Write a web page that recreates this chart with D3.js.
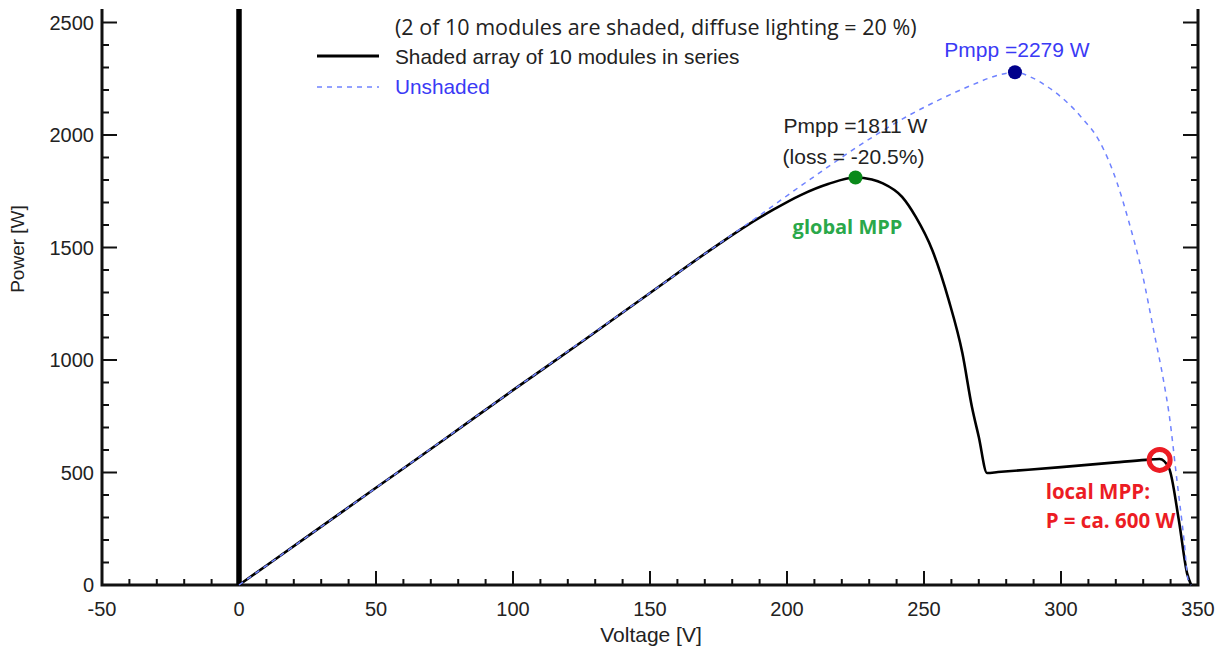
<!DOCTYPE html>
<html>
<head>
<meta charset="utf-8">
<script src="https://cdn.jsdelivr.net/npm/d3@7"></script>
<style>
  body { margin: 0; background: #fff; }
  svg { display: block; }
</style>
</head>
<body>
<div class="vis"></div>
<script>
// shaded array: voltage [V] / power [W]
var shadedV = [0, 25, 50, 75, 100, 125, 150, 175, 185, 195, 205, 215, 225, 231, 235, 242, 247, 253, 259, 264, 267.5, 270, 273, 277, 300, 320, 331, 336, 339.4, 343, 346, 347.5]
var shadedP = [0, 216, 432, 648, 866, 1080, 1298, 1514, 1595, 1668, 1733, 1782, 1811, 1802, 1785, 1725, 1636, 1489, 1267, 1031, 791, 658, 498, 502, 524, 545, 556, 560, 520, 289, 53, 0]

// unshaded array
var unshadedV = [0, 50, 100, 150, 175, 192, 204, 214, 225, 233.6, 243.4, 255.5, 267.5, 277.4, 283.2, 289.4, 295.6, 301.8, 307.7, 313.9, 320.4, 324.8, 329.6, 334, 337.6, 339.4, 342.3, 344.9, 346.4, 347.5]
var unshadedP = [0, 432, 866, 1298, 1515, 1660, 1765, 1850, 1942, 2009, 2080, 2156, 2222, 2267, 2279, 2255, 2210, 2150, 2075, 1975, 1790, 1613, 1387, 1120, 897, 764, 467, 200, 22, 0]

var xTicks = [-50, 0, 50, 100, 150, 200, 250, 300, 350]
var yTicks = [0, 500, 1000, 1500, 2000, 2500]

var mppUnshaded = [283.2, 2279]
var mppShaded = [225, 1811]
var mppLocal = [336, 556]

var legendTitle = "(2 of 10 modules are shaded, diffuse lighting = 20 %)"
var legendShaded = "Shaded array of 10 modules in series"
var legendUnshaded = "Unshaded"

var width = 1224
var height = 651
var axisFont = "'Liberation Sans', Arial, sans-serif"
var noteFont = "'Open Sans', 'Noto Sans', sans-serif"

var svg = d3.select(".vis").append("svg")
    .attr("width", width)
    .attr("height", height)

svg.append("rect").attr("width", width).attr("height", height).attr("fill", "#fff")

var x = d3.scaleLinear().domain([-50, 350]).range([102, 1198])
var y = d3.scaleLinear().domain([0, 2500]).range([585, 22.5])
var topY = 9

var frame = svg.append("g").attr("stroke", "#111")

// minor + major ticks
var xMinor = d3.range(-50, 351, 10)
var yMinor = d3.range(0, 2501, 100)

frame.selectAll(".xt").data(xMinor).enter().append("line")
    .attr("x1", function(d){ return x(d) }).attr("x2", function(d){ return x(d) })
    .attr("y1", y(0)).attr("y2", function(d){ return y(0) - (d % 50 == 0 ? 14 : 6) })
    .attr("stroke-width", 2)

frame.selectAll(".ytl").data(yMinor).enter().append("line")
    .attr("x1", x(-50)).attr("x2", function(d){ return x(-50) + (d % 500 == 0 ? 15 : 7) })
    .attr("y1", function(d){ return y(d) }).attr("y2", function(d){ return y(d) })
    .attr("stroke-width", 2)

frame.selectAll(".ytr").data(yMinor).enter().append("line")
    .attr("x1", x(350)).attr("x2", function(d){ return x(350) - (d % 500 == 0 ? 15 : 7) })
    .attr("y1", function(d){ return y(d) }).attr("y2", function(d){ return y(d) })
    .attr("stroke-width", 2)

// frame lines (no top border)
frame.append("path")
    .attr("d", "M" + x(-50) + "," + topY + "V" + y(0) + "H" + x(350) + "V" + topY)
    .attr("fill", "none")
    .attr("stroke-width", 3)

// zero line
svg.append("line")
    .attr("x1", x(0)).attr("x2", x(0))
    .attr("y1", topY).attr("y2", y(0))
    .attr("stroke", "#000")
    .attr("stroke-width", 5.5)

// tick labels
svg.append("g").selectAll("text").data(xTicks).enter().append("text")
    .attr("x", function(d){ return x(d) })
    .attr("y", 616)
    .attr("text-anchor", "middle")
    .attr("font-family", axisFont)
    .attr("font-size", 20)
    .attr("fill", "#222")
    .text(function(d){ return d })

svg.append("g").selectAll("text").data(yTicks).enter().append("text")
    .attr("x", 94)
    .attr("y", function(d){ return y(d) })
    .attr("dy", "0.36em")
    .attr("text-anchor", "end")
    .attr("font-family", axisFont)
    .attr("font-size", 20)
    .attr("fill", "#222")
    .text(function(d){ return d })

svg.append("text")
    .attr("x", 651).attr("y", 642)
    .attr("text-anchor", "middle")
    .attr("font-family", axisFont)
    .attr("font-size", 21)
    .attr("fill", "#222")
    .text("Voltage [V]")

svg.append("text")
    .attr("transform", "translate(24,249) rotate(-90)")
    .attr("text-anchor", "middle")
    .attr("font-family", axisFont)
    .attr("font-size", 19)
    .attr("fill", "#222")
    .text("Power [W]")

// curves
var line = d3.line()
    .x(function(d){ return x(d[0]) })
    .y(function(d){ return y(d[1]) })
    .curve(d3.curveMonotoneX)

var shaded = shadedV.map(function(v, i){ return [v, shadedP[i]] })
var unshaded = unshadedV.map(function(v, i){ return [v, unshadedP[i]] })

svg.append("path")
    .datum(shaded)
    .attr("d", line)
    .attr("fill", "none")
    .attr("stroke", "#000")
    .attr("stroke-width", 2.6)
    .attr("stroke-linejoin", "round")

svg.append("path")
    .datum(unshaded)
    .attr("d", line)
    .attr("fill", "none")
    .attr("stroke", "#6f82ff")
    .attr("stroke-width", 1.5)
    .attr("stroke-dasharray", "5,5")

// legend
var legend = svg.append("g")
legend.append("line")
    .attr("x1", 317).attr("x2", 379).attr("y1", 56).attr("y2", 56)
    .attr("stroke", "#000").attr("stroke-width", 3)
legend.append("line")
    .attr("x1", 317).attr("x2", 379).attr("y1", 87).attr("y2", 87)
    .attr("stroke", "#6f82ff").attr("stroke-width", 1.5).attr("stroke-dasharray", "5,5")
legend.append("text")
    .attr("x", 395).attr("y", 35)
    .attr("font-family", noteFont).attr("font-size", 21.5).attr("fill", "#222")
    .text(legendTitle)
legend.append("text")
    .attr("x", 395).attr("y", 64)
    .attr("font-family", axisFont).attr("font-size", 20.8).attr("fill", "#222")
    .text(legendShaded)
legend.append("text")
    .attr("x", 395).attr("y", 94)
    .attr("font-family", axisFont).attr("font-size", 20.8).attr("fill", "#3a3af5")
    .text(legendUnshaded)

// MPP markers and notes
var notes = svg.append("g")

notes.append("circle")
    .attr("cx", x(mppUnshaded[0])).attr("cy", y(mppUnshaded[1])).attr("r", 7)
    .attr("fill", "#00008b")
notes.append("text")
    .attr("x", x(mppUnshaded[0]) + 2).attr("y", y(mppUnshaded[1]) - 15)
    .attr("text-anchor", "middle")
    .attr("font-family", axisFont).attr("font-size", 21).attr("fill", "#3a3af5")
    .text("Pmpp =" + mppUnshaded[1] + " W")

notes.append("circle")
    .attr("cx", x(mppShaded[0])).attr("cy", y(mppShaded[1])).attr("r", 7)
    .attr("fill", "#0a8a1a")
notes.append("text")
    .attr("x", x(mppShaded[0])).attr("y", y(mppShaded[1]) - 45)
    .attr("text-anchor", "middle")
    .attr("font-family", axisFont).attr("font-size", 21).attr("fill", "#222")
    .text("Pmpp =" + mppShaded[1] + " W")
notes.append("text")
    .attr("x", x(mppShaded[0]) - 2).attr("y", y(mppShaded[1]) - 14)
    .attr("text-anchor", "middle")
    .attr("font-family", axisFont).attr("font-size", 21).attr("fill", "#222")
    .text("(loss = " + ((mppShaded[1] / mppUnshaded[1] - 1) * 100).toFixed(1) + "%)")
notes.append("text")
    .attr("x", x(mppShaded[0]) - 8).attr("y", y(mppShaded[1]) + 56)
    .attr("text-anchor", "middle")
    .attr("font-family", noteFont).attr("font-weight", "bold").attr("font-size", 20).attr("fill", "#2aa84a")
    .text("global MPP")

notes.append("circle")
    .attr("cx", x(mppLocal[0])).attr("cy", y(mppLocal[1])).attr("r", 10.5)
    .attr("fill", "none")
    .attr("stroke", "#ec1c24")
    .attr("stroke-width", 5)
notes.append("text")
    .attr("x", x(mppLocal[0]) - 114).attr("y", y(mppLocal[1]) + 39)
    .attr("font-family", noteFont).attr("font-weight", "bold").attr("font-size", 20.5).attr("fill", "#ec1c24")
    .text("local MPP:")
notes.append("text")
    .attr("x", x(mppLocal[0]) - 114).attr("y", y(mppLocal[1]) + 68)
    .attr("font-family", noteFont).attr("font-weight", "bold").attr("font-size", 20.5).attr("fill", "#ec1c24")
    .text("P = ca. 600 W")
</script>
</body>
</html>
